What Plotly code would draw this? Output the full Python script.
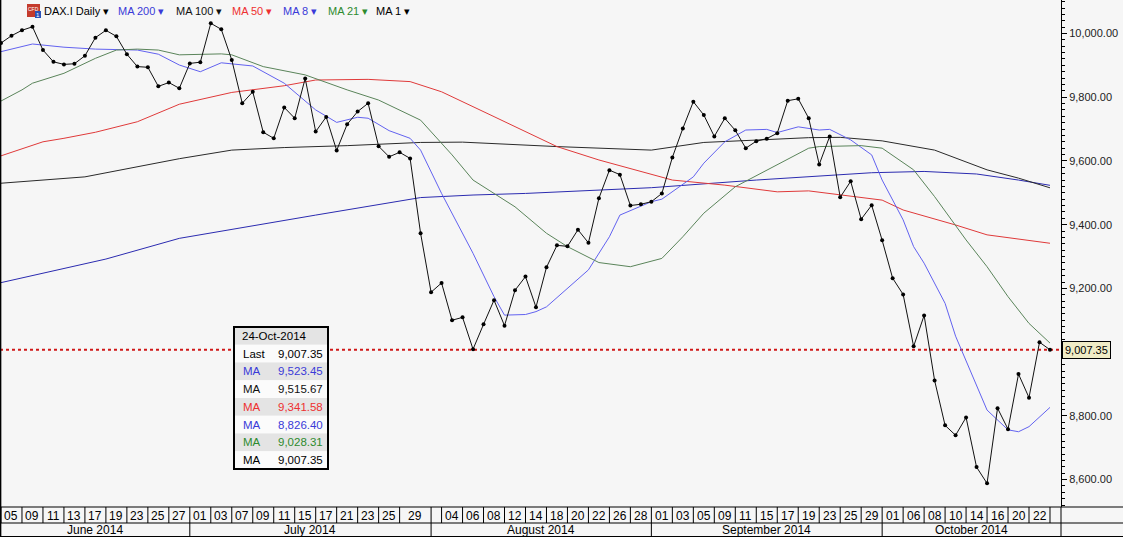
import plotly.graph_objects as go

chart_name = "DAX.I Daily"
box_date = "24-Oct-2014"

# daily closes, 05 Jun .. 24 Oct 2014, one per trading day (this is "MA 1")
close = [9970, 9993, 10010, 10021, 9948, 9911, 9903, 9905, 9930, 9987,
         10010, 9991, 9935, 9896, 9894, 9834, 9846, 9828, 9906, 9910,
         10032, 10013, 9917, 9781, 9817, 9690, 9671, 9768, 9734, 9859,
         9692, 9738, 9633, 9715, 9755, 9781, 9646, 9613, 9627, 9608,
         9373, 9188, 9217, 9100, 9109, 9009, 9087, 9163, 9083, 9194,
         9237, 9141, 9266, 9335, 9332, 9384, 9343, 9483, 9571, 9557,
         9460, 9464, 9472, 9498, 9611, 9702, 9786, 9744, 9677, 9734,
         9696, 9640, 9662, 9670, 9687, 9789, 9795, 9734, 9589, 9677,
         9486, 9536, 9417, 9461, 9351, 9232, 9181, 9018, 9115, 8911,
         8770, 8739, 8795, 8639, 8588, 8824, 8758, 8931, 8857, 9031,
         9007.35]

# moving averages (trading-day index, value)
ma200_day = [0, 10, 17, 20, 30, 40, 45, 50, 62, 72, 83, 88, 93, 97, 100]
ma200 = [9218, 9292, 9357, 9374, 9430, 9485, 9493, 9498, 9516, 9540,
         9563, 9567, 9559, 9540, 9523.45]

ma100_day = [0, 8, 17, 22, 27, 33, 40, 44, 53, 62, 67, 77, 80, 84, 89, 94, 97, 100]
ma100 = [9530, 9550, 9607, 9634, 9642, 9648, 9658, 9659, 9645, 9634,
         9658, 9673, 9674, 9663, 9634, 9572, 9546, 9515.67]

ma50_day = [0, 4, 6, 9, 13, 17, 22, 27, 30, 35, 39, 42, 47, 53, 57, 62, 64,
            69, 74, 77, 80, 84, 86, 91, 94, 100]
ma50 = [9616, 9660, 9671, 9690, 9723, 9778, 9815, 9836, 9854, 9856, 9849,
        9817, 9739, 9645, 9603, 9558, 9540, 9524, 9503, 9506, 9493, 9477,
        9446, 9399, 9368, 9341.58]

ma8_day = [0, 3, 6, 9, 13, 15, 17, 19, 21, 24, 27, 30, 32, 34, 35, 37, 39, 40,
           42, 45, 47, 48, 50, 51, 52, 54, 56, 58, 59, 62, 63, 66, 67, 69, 71,
           73, 74, 76, 78, 79, 81, 83, 84, 86, 87, 88, 90, 91, 94, 96, 97, 98, 100]
ma8 = [9943, 9967, 9957, 9951, 9948, 9935, 9901, 9880, 9908, 9898, 9844, 9760,
       9721, 9737, 9734, 9695, 9671, 9634, 9498, 9310, 9174, 9116, 9118, 9127,
       9142, 9200, 9258, 9362, 9430, 9472, 9480, 9550, 9593, 9660, 9697, 9699,
       9689, 9707, 9697, 9699, 9666, 9619, 9540, 9415, 9331, 9279, 9153, 9050,
       8818, 8756, 8750, 8766, 8826.40]

ma21_day = [0, 2, 3, 6, 9, 11, 13, 15, 17, 21, 22, 25, 29, 33, 36, 39, 40, 43,
            45, 49, 52, 54, 57, 60, 62, 63, 65, 67, 70, 74, 77, 78, 82, 84, 87,
            89, 92, 94, 96, 98, 100]
ma21 = [9788, 9823, 9844, 9875, 9922, 9948, 9951, 9948, 9933, 9936, 9933,
        9896, 9870, 9823, 9791, 9744, 9728, 9619, 9540, 9456, 9373, 9331,
        9281, 9268, 9284, 9294, 9362, 9436, 9519, 9587, 9640, 9645, 9648,
        9640, 9572, 9488, 9352, 9268, 9174, 9090, 9028.31]

# x axis: every other trading day is labelled
day_labels = ["05", "09", "11", "13", "17", "19", "23", "25", "27",
              "01", "03", "07", "09", "11", "15", "17", "21", "23", "25", "29",
              "04", "06", "08", "12", "14", "18", "20", "22", "26", "28",
              "01", "03", "05", "09", "11", "15", "17", "19", "23", "25", "29",
              "01", "06", "08", "10", "14", "16", "20", "22"]
day_label_day = [0, 2, 4, 6, 8, 10, 12, 14, 16,
                 18, 20, 22, 24, 26, 28, 30, 32, 34, 36, 38,
                 42, 44, 46, 48, 50, 52, 54, 56, 58, 60,
                 62, 64, 66, 68, 70, 72, 74, 76, 78, 80, 82,
                 84, 86, 88, 90, 92, 94, 96, 98]
months = ["June 2014", "July 2014", "August 2014", "September 2014", "October 2014"]
month_first_day = [0, 18, 41, 62, 84]

# 9,000 is hidden under the last-price tag
y_ticks = [8600, 8800, 9200, 9400, 9600, 9800, 10000]

# name, days, values, line colour, text colour
mas = [
    ("MA 200", ma200_day, ma200, "#2b2bb0", "#3a3ad8"),
    ("MA 100", ma100_day, ma100, "#2a2a2a", "#111111"),
    ("MA 50", ma50_day, ma50, "#e03a3a", "#ee3030"),
    ("MA 8", ma8_day, ma8, "#6262f0", "#3a3ad8"),
    ("MA 21", ma21_day, ma21, "#5a845a", "#2e8b2e"),
]

W, H = 1123, 537
PW, PH = 1061, 507          # plot area in pixels
FONT = "Liberation Sans, Arial, sans-serif"
X_LO, X_HI = -0.095, 101.05
Y_LO, Y_HI = 8513.8, 10105.1


def ax(px):
    return px / PW


def ay(py):
    return 1 - py / PH


def prect(x0, y0, x1, y1, fill, line_color=None, lw=0):
    return dict(type="rect", xref="paper", yref="paper",
                xsizemode="pixel", ysizemode="pixel", xanchor=0, yanchor=1,
                x0=x0, x1=x1, y0=-y0, y1=-y1, fillcolor=fill,
                line=dict(color=line_color or fill, width=lw))


def text(s, px, py, color="#000", size=12, anchor="left"):
    return dict(text=s, xref="paper", yref="paper", x=ax(px), y=ay(py),
                xanchor=anchor, yanchor="middle", showarrow=False,
                font=dict(family=FONT, size=size, color=color))


fig = go.Figure()
days = list(range(len(close)))

for name, d, v, lc, tc in mas:
    fig.add_trace(go.Scatter(x=d, y=v, mode="lines", name=name,
                             line=dict(color=lc, width=1)))
fig.add_trace(go.Scatter(x=days, y=close, mode="lines+markers", name="MA 1",
                         line=dict(color="#111111", width=1),
                         marker=dict(color="#000000", size=4)))

shapes = []
annotations = []

# last price dotted line
shapes.append(dict(type="line", xref="paper", x0=0, x1=1, yref="y",
                   y0=close[-1], y1=close[-1], layer="below",
                   line=dict(color="#d01818", width=2, dash="dot")))

# x axis rows (day row + month row)
edge = len(close) - 1
bounds = sorted(set(day_label_day + month_first_day[1:] + [edge]))
for b in bounds:
    shapes.append(dict(type="line", xref="x", x0=b, x1=b, yref="paper",
                       ysizemode="pixel", yanchor=0, y0=0, y1=-16,
                       line=dict(color="#000", width=1)))
for m in month_first_day[1:]:
    shapes.append(dict(type="line", xref="x", x0=m, x1=m, yref="paper",
                       ysizemode="pixel", yanchor=0, y0=-16, y1=-30,
                       line=dict(color="#000", width=1)))
for off in [0, -16, -29.5]:
    shapes.append(dict(type="line", xref="paper", x0=0, x1=W / PW, yref="paper",
                       ysizemode="pixel", yanchor=0, y0=off, y1=off,
                       line=dict(color="#000", width=1)))
# right axis runs down through the label rows, plus left border
shapes.append(dict(type="line", xref="paper", x0=1, x1=1, yref="paper",
                   ysizemode="pixel", yanchor=0, y0=0, y1=-30,
                   line=dict(color="#000", width=1)))
shapes.append(dict(type="line", xref="paper", x0=0.6 / PW, x1=0.6 / PW, yref="paper",
                   ysizemode="pixel", yanchor=1, y0=0, y1=-H,
                   line=dict(color="#000", width=1.5)))

for lab, d in zip(day_labels, day_label_day):
    nxt = min(b for b in bounds + [X_HI] if b > d)
    annotations.append(dict(text=lab, xref="x", x=(d + nxt) / 2, yref="paper",
                            y=0, yanchor="middle", yshift=-8.5, showarrow=False,
                            font=dict(family=FONT, size=12, color="#000")))
mb = [X_LO] + month_first_day[1:] + [X_HI]
for i, mname in enumerate(months):
    annotations.append(dict(text=mname, xref="x", x=(mb[i] + mb[i + 1]) / 2,
                            yref="paper", y=0, yanchor="middle", yshift=-23,
                            showarrow=False,
                            font=dict(family=FONT, size=12, color="#000")))

# last value tag on the price axis
annotations.append(dict(text=f"{close[-1]:,.2f}", xref="paper", x=1, xshift=1,
                        xanchor="left", yref="y", y=close[-1], showarrow=False,
                        bgcolor="#f0ecc6", bordercolor="#000", borderwidth=1,
                        borderpad=2, font=dict(family=FONT, size=11, color="#000")))

# header: icon + series names
shapes.append(prect(27, 4, 40, 17, "#c43a2c"))
shapes.append(prect(35, 11, 41, 18, "#2a52b8"))
annotations.append(text("CFD", 33, 9, "#fff", 5, "center"))
annotations.append(text("1", 38, 14.5, "#fff", 6, "center"))
annotations.append(text(chart_name + " ▾", 42, 11, size=11))
head_x = [116, 174, 230, 281, 326]
for (name, d, v, lc, tc), hx in zip(mas, head_x):
    annotations.append(text(name + " ▾", hx, 11, tc, 11))
annotations.append(text("MA 1 ▾", 374, 11, size=11))

# data box
bx0, bx1, by0, rh = 234, 328, 327, 17.75
rows = [("Last", close[-1], "#000")] + \
       [("MA", v[-1], tc) for name, d, v, lc, tc in mas] + [("MA", close[-1], "#000")]
shapes.append(prect(bx0, by0, bx1, by0 + rh, "#e4e4e4"))
annotations.append(text(box_date, bx0 + 6, by0 + rh / 2, "#000", 11.5))
for i, (lab, val, col) in enumerate(rows):
    top = by0 + rh * (i + 1)
    shapes.append(prect(bx0, top, bx1, top + rh, "#fbfbfb" if i % 2 == 0 else "#e4e4e4"))
    annotations.append(text(lab, bx0 + 7, top + rh / 2, col, 11.5))
    annotations.append(text(f"{val:,.2f}", bx0 + 42, top + rh / 2, col, 11.5))
shapes.append(dict(type="rect", xref="paper", yref="paper", xsizemode="pixel",
                   ysizemode="pixel", xanchor=0, yanchor=1, x0=bx0, x1=bx1,
                   y0=-by0, y1=-(by0 + rh * 8), line=dict(color="#000", width=2)))

fig.update_layout(
    width=W, height=H, template="none", showlegend=False,
    margin=dict(l=0, r=W - PW, t=0, b=H - PH, pad=0),
    paper_bgcolor="#f6f6f6", plot_bgcolor="#f6f6f6",
    font=dict(family=FONT, size=11, color="#222"),
    shapes=shapes, annotations=annotations,
    xaxis=dict(range=[X_LO, X_HI], showgrid=False, zeroline=False,
               showticklabels=False, ticks="", showline=False),
    yaxis=dict(range=[Y_LO, Y_HI], side="right", showgrid=False, zeroline=False,
               showline=True, linecolor="#000", linewidth=1,
               tickvals=y_ticks, ticktext=[f"{t:,.2f}" for t in y_ticks],
               ticks="outside", ticklen=5, tickcolor="#000",
               minor=dict(dtick=20, ticks="outside", ticklen=3, tickcolor="#000"),
               tickfont=dict(family=FONT, size=11, color="#222"),
               automargin=False),
)

fig.write_html("out.html", config={"displayModeBar": False},
               post_script="document.body.style.margin='0';")
